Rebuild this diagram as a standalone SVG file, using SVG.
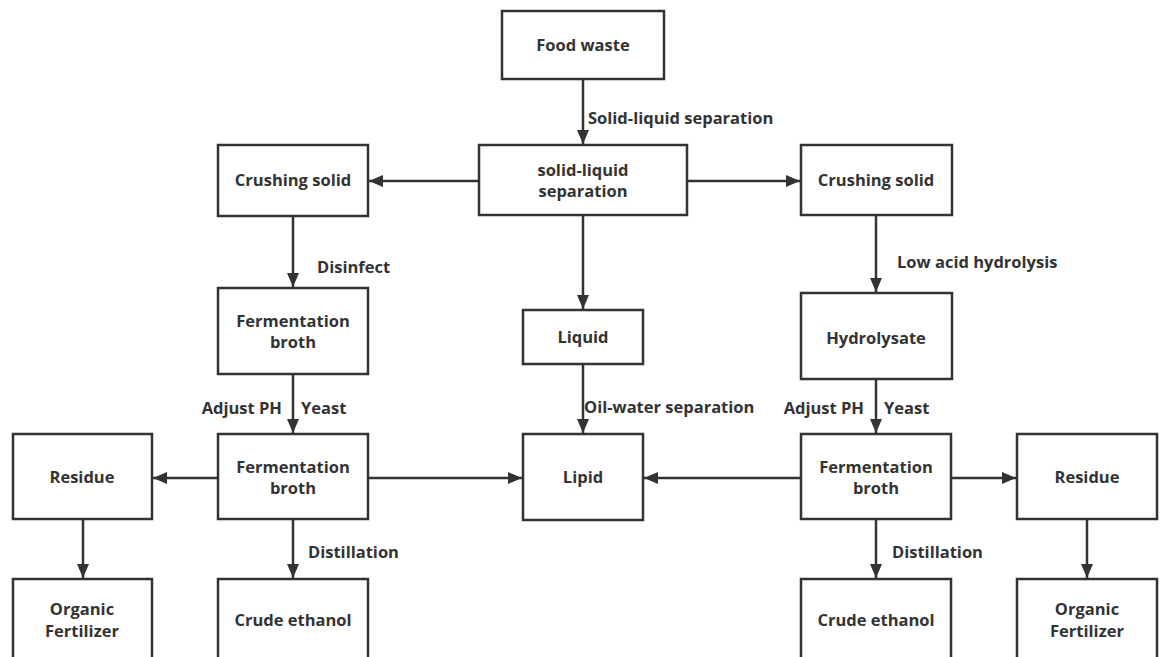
<svg xmlns="http://www.w3.org/2000/svg" width="1160" height="657" viewBox="0 0 1160 657">
<defs>
<style>
.box{fill:#fff;stroke:#333;stroke-width:2.5}
.t{font-family:"Open Sans","Noto Sans","Liberation Sans",sans-serif;font-weight:bold;font-size:16.5px;fill:#333;text-anchor:middle}
.l{font-family:"Open Sans","Noto Sans","Liberation Sans",sans-serif;font-weight:bold;font-size:16.5px;fill:#333}
.c{fill:none;stroke:#333;stroke-width:2.5}
</style>
<marker id="ah" viewBox="0 0 14 12" refX="14" refY="6" markerUnits="userSpaceOnUse" markerWidth="14" markerHeight="12" orient="auto">
<path d="M0,0 L14,6 L0,12 Z" fill="#333"/>
</marker>
</defs>
<rect width="1160" height="657" fill="#fff"/>
<g id="connectors">
<path class="c" d="M583,79 V144" marker-end="url(#ah)"/>
<path class="c" d="M479,181 H369" marker-end="url(#ah)"/>
<path class="c" d="M687,181 H800" marker-end="url(#ah)"/>
<path class="c" d="M583,215 V309" marker-end="url(#ah)"/>
<path class="c" d="M293,216 V287" marker-end="url(#ah)"/>
<path class="c" d="M876,215 V292" marker-end="url(#ah)"/>
<path class="c" d="M583,364 V433" marker-end="url(#ah)"/>
<path class="c" d="M293,374 V433" marker-end="url(#ah)"/>
<path class="c" d="M876,379 V433" marker-end="url(#ah)"/>
<path class="c" d="M218,478 H153" marker-end="url(#ah)"/>
<path class="c" d="M368,478 H522" marker-end="url(#ah)"/>
<path class="c" d="M801,478 H644" marker-end="url(#ah)"/>
<path class="c" d="M951,478 H1016" marker-end="url(#ah)"/>
<path class="c" d="M83,519 V578" marker-end="url(#ah)"/>
<path class="c" d="M293,519 V578" marker-end="url(#ah)"/>
<path class="c" d="M876,519 V578" marker-end="url(#ah)"/>
<path class="c" d="M1087,519 V578" marker-end="url(#ah)"/>
<text class="l" x="588" y="124">Solid-liquid separation</text>
<text class="l" x="317" y="273">Disinfect</text>
<text class="l" x="897" y="268">Low acid hydrolysis</text>
<text class="l" x="584" y="413">Oil-water separation</text>
<text class="l" x="282" y="414" text-anchor="end">Adjust PH</text>
<text class="l" x="301" y="414">Yeast</text>
<text class="l" x="864" y="414" text-anchor="end">Adjust PH</text>
<text class="l" x="884" y="414">Yeast</text>
<text class="l" x="308" y="558">Distillation</text>
<text class="l" x="892" y="558">Distillation</text>
</g>
<g id="food-waste"><rect class="box" x="502" y="11" width="162" height="68"/><text class="t" x="583" y="51">Food waste</text></g>
<g id="sl-separation"><rect class="box" x="479" y="145" width="208" height="70"/><text class="t" x="583" y="176">solid-liquid</text><text class="t" x="583" y="197">separation</text></g>
<g id="crushing-left"><rect class="box" x="218" y="145" width="150" height="71"/><text class="t" x="293" y="186">Crushing solid</text></g>
<g id="crushing-right"><rect class="box" x="801" y="145" width="151" height="70"/><text class="t" x="876" y="186">Crushing solid</text></g>
<g id="fermentation-upper"><rect class="box" x="218" y="288" width="150" height="86"/><text class="t" x="293" y="327">Fermentation</text><text class="t" x="293" y="348">broth</text></g>
<g id="hydrolysate"><rect class="box" x="801" y="293" width="151" height="86"/><text class="t" x="876" y="344">Hydrolysate</text></g>
<g id="liquid"><rect class="box" x="523" y="310" width="120" height="54"/><text class="t" x="583" y="343">Liquid</text></g>
<g id="residue-left"><rect class="box" x="13" y="434" width="139" height="85"/><text class="t" x="82" y="483">Residue</text></g>
<g id="fermentation-left"><rect class="box" x="218" y="434" width="150" height="85"/><text class="t" x="293" y="473">Fermentation</text><text class="t" x="293" y="494">broth</text></g>
<g id="lipid"><rect class="box" x="523" y="434" width="120" height="86"/><text class="t" x="583" y="483">Lipid</text></g>
<g id="fermentation-right"><rect class="box" x="801" y="434" width="150" height="85"/><text class="t" x="876" y="473">Fermentation</text><text class="t" x="876" y="494">broth</text></g>
<g id="residue-right"><rect class="box" x="1017" y="434" width="140" height="85"/><text class="t" x="1087" y="483">Residue</text></g>
<g id="organic-left"><rect class="box" x="13" y="579" width="139" height="90"/><text class="t" x="82" y="615">Organic</text><text class="t" x="82" y="637">Fertilizer</text></g>
<g id="ethanol-left"><rect class="box" x="218" y="579" width="150" height="90"/><text class="t" x="293" y="626">Crude ethanol</text></g>
<g id="ethanol-right"><rect class="box" x="801" y="579" width="150" height="90"/><text class="t" x="876" y="626">Crude ethanol</text></g>
<g id="organic-right"><rect class="box" x="1017" y="579" width="140" height="90"/><text class="t" x="1087" y="615">Organic</text><text class="t" x="1087" y="637">Fertilizer</text></g>
</svg>
